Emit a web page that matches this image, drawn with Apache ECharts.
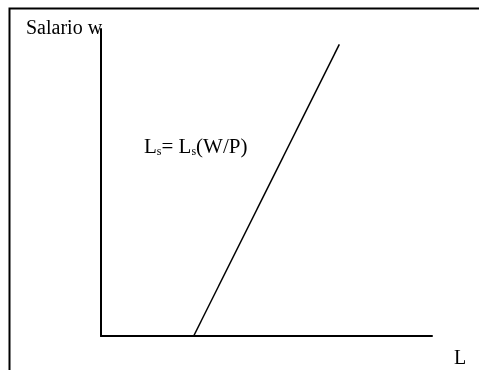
<!DOCTYPE html>
<html>
<head>
<meta charset="utf-8">
<script src="https://cdn.jsdelivr.net/npm/echarts@6/dist/echarts.min.js"></script>
<style>
html,body{margin:0;padding:0;background:#fff;}
#c{width:479px;height:370px;}
</style>
</head>
<body>
<div id="c"></div>
<script>
// Supply curve points (L, W/P)
const supplyL = [2.8, 7.2];
const supplyW = [0, 9.5];
const yAxisTitle = 'Salario w';
const xAxisTitle = 'L';
const curveLabel = ['L', 's', '= L', 's', '(W/P)'];

const chart = echarts.init(document.getElementById('c'), null, {renderer: 'canvas'});
const serif = 'Liberation Serif, Times New Roman, serif';
chart.setOption({
  animation: false,
  backgroundColor: '#fff',
  grid: {left: 101, top: 29, right: 47, bottom: 34},
  xAxis: {
    type: 'value', min: 0, max: 10,
    axisLine: {show: true, onZero: false, lineStyle: {color: '#000', width: 2}},
    axisTick: {show: false}, axisLabel: {show: false}, splitLine: {show: false}
  },
  yAxis: {
    type: 'value', min: 0, max: 10,
    axisLine: {show: true, onZero: false, lineStyle: {color: '#000', width: 2}},
    axisTick: {show: false}, axisLabel: {show: false}, splitLine: {show: false}
  },
  series: [{
    type: 'line',
    data: supplyL.map((l, i) => [l, supplyW[i]]),
    symbol: 'none',
    lineStyle: {color: '#000', width: 1.5}
  }],
  graphic: [
    {type: 'rect', shape: {x: 9.5, y: 8.5, width: 700, height: 700}, style: {fill: 'none', stroke: '#000', lineWidth: 2}, silent: true},
    {type: 'text', left: 26, top: 19, style: {text: yAxisTitle, font: '20px ' + serif, fill: '#000'}},
    {type: 'text', left: 454, top: 349, style: {text: xAxisTitle, font: '20px ' + serif, fill: '#000'}},
    {type: 'text', left: 144, top: 137, style: {
      text: '{a|' + curveLabel[0] + '}{s|' + curveLabel[1] + '}{a|' + curveLabel[2] + '}{s|' + curveLabel[3] + '}{a|' + curveLabel[4] + '}',
      rich: {
        a: {fontSize: 21, fontFamily: serif, fill: '#000', lineHeight: 24, verticalAlign: 'bottom'},
        s: {fontSize: 12, fontFamily: serif, fill: '#000', lineHeight: 24, padding: [9, 0, 0, 0], verticalAlign: 'bottom'}
      }
    }}
  ]
});
</script>
</body>
</html>
